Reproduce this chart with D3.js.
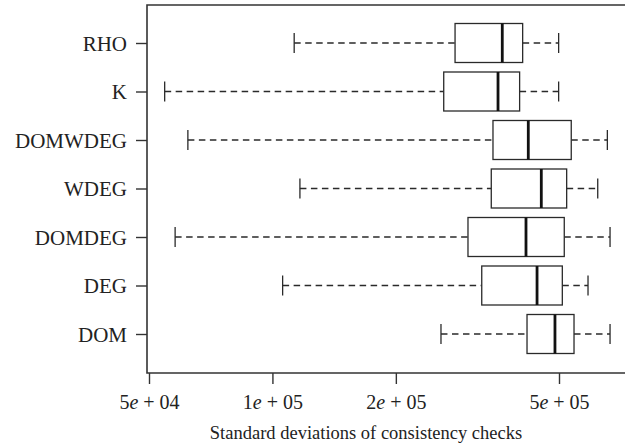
<html>
<head>
<script src="https://d3js.org/d3.v7.min.js"></script>
<style>
  body { margin: 0; background: #fff; }
  text { font-family: "Liberation Serif", "DejaVu Serif", serif; fill: #222; }
</style>
</head>
<body>
<div id="chart"></div>
<script>
// boxplot stats, top to bottom
var methods = ["RHO", "K", "DOMWDEG", "WDEG", "DOMDEG", "DEG", "DOM"];
var whiskerLo = [113000, 54600, 62200, 116700, 57900, 105900, 257700];
var q1        = [278900, 261700, 345100, 341800, 299900, 324000, 417800];
var median    = [363600, 355000, 420800, 452700, 415400, 442000, 488800];
var q3        = [407700, 400800, 535600, 522000, 515000, 509400, 544000];
var whiskerHi = [499000, 499000, 656000, 621500, 666000, 588500, 666000];

var tickVals = [5e4, 1e5, 2e5, 5e5];
var tickLabels = ["5e + 04", "1e + 05", "2e + 05", "5e + 05"];
var xTitle = "Standard deviations of consistency checks";

var width = 625, height = 445;
var plotLeft = 147, plotTop = 5, plotBottom = 373;

var svg = d3.select("#chart").append("svg")
  .attr("width", width).attr("height", height);

var x = d3.scaleLog().domain([5e4, 5e5]).range([149, 559]);
var y = d3.scalePoint().domain(methods).range([43, 334]);

var data = methods.map(function(m, i) {
  return { name: m, lo: whiskerLo[i], q1: q1[i], med: median[i], q3: q3[i], hi: whiskerHi[i] };
});

var boxH = 39, capH = 20;
var stroke = "#2a2a2a";

var g = svg.selectAll(".box").data(data).enter().append("g").attr("class", "box");

// whiskers
g.append("line")
  .attr("x1", function(d) { return x(d.lo); })
  .attr("x2", function(d) { return x(d.q1); })
  .attr("y1", function(d) { return y(d.name); })
  .attr("y2", function(d) { return y(d.name); })
  .attr("stroke", stroke).attr("stroke-width", 1.3).attr("stroke-dasharray", "6.5,4.5");
g.append("line")
  .attr("x1", function(d) { return x(d.q3); })
  .attr("x2", function(d) { return x(d.hi); })
  .attr("y1", function(d) { return y(d.name); })
  .attr("y2", function(d) { return y(d.name); })
  .attr("stroke", stroke).attr("stroke-width", 1.3).attr("stroke-dasharray", "6.5,4.5");
// caps
["lo", "hi"].forEach(function(k) {
  g.append("line")
    .attr("x1", function(d) { return x(d[k]); })
    .attr("x2", function(d) { return x(d[k]); })
    .attr("y1", function(d) { return y(d.name) - capH / 2; })
    .attr("y2", function(d) { return y(d.name) + capH / 2; })
    .attr("stroke", stroke).attr("stroke-width", 1.3);
});
// boxes
g.append("rect")
  .attr("x", function(d) { return x(d.q1); })
  .attr("width", function(d) { return x(d.q3) - x(d.q1); })
  .attr("y", function(d) { return y(d.name) - boxH / 2; })
  .attr("height", boxH)
  .attr("fill", "#fff").attr("stroke", stroke).attr("stroke-width", 1.3);
// medians
g.append("line")
  .attr("x1", function(d) { return x(d.med); })
  .attr("x2", function(d) { return x(d.med); })
  .attr("y1", function(d) { return y(d.name) - boxH / 2; })
  .attr("y2", function(d) { return y(d.name) + boxH / 2; })
  .attr("stroke", "#111").attr("stroke-width", 2.8);

// frame (right side falls off the picture)
svg.append("path")
  .attr("d", "M" + width + "," + plotTop + "H" + plotLeft + "V" + plotBottom + "H" + width)
  .attr("fill", "none").attr("stroke", "#333").attr("stroke-width", 1.6);

// y axis
var yAxis = svg.append("g")
  .attr("transform", "translate(" + plotLeft + ",0)")
  .call(d3.axisLeft(y).tickSize(11).tickPadding(9));
yAxis.select(".domain").remove();
yAxis.selectAll("line").attr("stroke", "#333").attr("stroke-width", 1.4);
yAxis.selectAll("text").attr("font-size", 21).attr("fill", "#222")
  .attr("font-family", "Liberation Serif").attr("dy", "0.34em");

// x axis
var xAxis = svg.append("g")
  .attr("transform", "translate(0," + plotBottom + ")")
  .call(d3.axisBottom(x).tickValues(tickVals).tickSize(11).tickPadding(11)
    .tickFormat(function(d, i) { return tickLabels[i]; }));
xAxis.select(".domain").remove();
xAxis.selectAll("line").attr("stroke", "#333").attr("stroke-width", 1.4);
xAxis.selectAll("text").attr("font-size", 20).attr("fill", "#222")
  .attr("font-family", "Liberation Serif")
  .each(function(d, i) {
    var parts = tickLabels[i].split("e");
    var t = d3.select(this).text(null);
    t.append("tspan").text(parts[0]);
    t.append("tspan").attr("font-style", "italic").text("e");
    t.append("tspan").text(parts[1]);
  });

svg.append("text")
  .attr("x", 366).attr("y", 439)
  .attr("text-anchor", "middle")
  .attr("font-size", 18.5)
  .text(xTitle);
</script>
</body>
</html>
